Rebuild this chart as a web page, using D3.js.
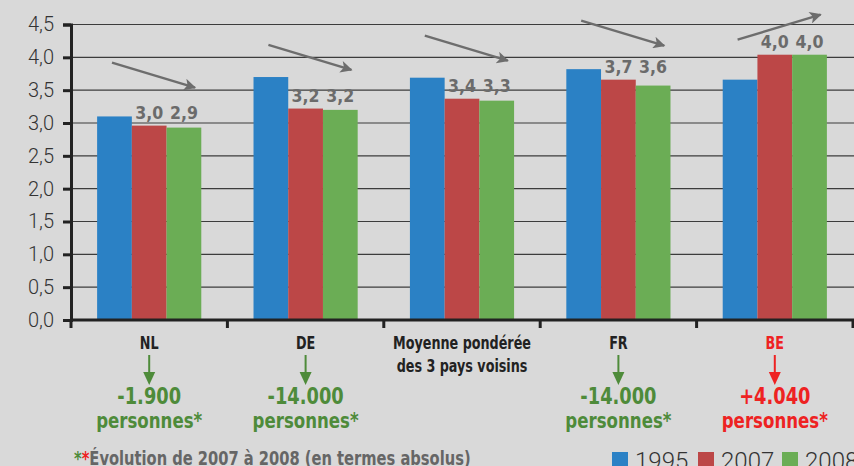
<!DOCTYPE html>
<html>
<head>
<meta charset="utf-8">
<script src="https://cdn.jsdelivr.net/npm/d3@7"></script>
<style>
body { margin: 0; background: #d9d9d9; }
.cond { font-family: "DejaVu Sans Condensed", sans-serif; font-weight: bold; }
</style>
</head>
<body>
<div id="chart"></div>
<script>
var width  = 854;
var height = 466;

// data
var categories = ["NL", "DE", "Moyenne", "FR", "BE"];
var catLines = [["NL"], ["DE"], ["Moyenne pondérée", "des 3 pays voisins"], ["FR"], ["BE"]];
var years = ["1995", "2007", "2008"];
var v1995 = [3.10, 3.70, 3.69, 3.82, 3.66];
var v2007 = [2.96, 3.22, 3.37, 3.66, 4.04];
var v2008 = [2.93, 3.20, 3.34, 3.57, 4.04];
var changes = ["-1.900", "-14.000", null, "-14.000", "+4.040"];
var yTicks = [0, 0.5, 1, 1.5, 2, 2.5, 3, 3.5, 4, 4.5];
var colors = ["#2b81c5", "#bc4747", "#6bad55"];
var series = [v1995, v2007, v2008];

var svg = d3.select("#chart").append("svg").attr("width", width).attr("height", height);

var x0 = d3.scaleBand().domain(categories).range([71, 853]);
var bw = x0.bandwidth();
var x1 = d3.scaleBand().domain(years).range([bw * 0.167, bw * 0.833]);
var y = d3.scaleLinear().domain([0, 4.5]).range([320, 24.5]);
var fmt = function(v) { return d3.format(".1f")(v).replace(".", ","); };

// texte étroit (police condensée resserrée)
function narrow(x, yy, size, sx, anchor) {
	return svg.append("text").attr("class", "cond")
		.attr("transform", "translate(" + x + "," + yy + ") scale(" + sx + ",1)")
		.attr("text-anchor", anchor || "middle").attr("font-size", size);
}

// grille
svg.append("g").selectAll("line").data(yTicks.slice(1)).enter().append("line")
	.attr("x1", 71).attr("x2", width)
	.attr("y1", function(d){ return y(d); }).attr("y2", function(d){ return y(d); })
	.attr("stroke", "#3c3c3c").attr("stroke-width", 1.2);

// barres
categories.forEach(function(c, i) {
	years.forEach(function(yr, j) {
		svg.append("rect")
			.attr("x", x0(c) + x1(yr))
			.attr("y", y(series[j][i]))
			.attr("width", x1.bandwidth())
			.attr("height", y(0) - y(series[j][i]))
			.attr("fill", colors[j]);
	});
});

// axe Y
var yAxis = d3.axisLeft(y).tickValues(yTicks).tickSize(8).tickPadding(9).tickFormat(fmt);
var gy = svg.append("g").attr("transform", "translate(71,0)").call(yAxis);
gy.select(".domain").attr("stroke", "#222").attr("stroke-width", 3);
gy.selectAll(".tick line").attr("stroke", "#222").attr("stroke-width", 3);
gy.selectAll(".tick text").attr("font-family", "Roboto, sans-serif").attr("font-weight", 300)
	.attr("font-size", 20).attr("fill", "#333");

// axe X
svg.append("line").attr("x1", 71).attr("x2", width).attr("y1", 320).attr("y2", 320)
	.attr("stroke", "#222").attr("stroke-width", 3);
var bounds = categories.map(function(c){ return x0(c); }).concat([x0.range()[1]]);
svg.append("g").selectAll("line").data(bounds).enter().append("line")
	.attr("x1", function(d){ return d; }).attr("x2", function(d){ return d; })
	.attr("y1", 320).attr("y2", 328).attr("stroke", "#222").attr("stroke-width", 3);

// étiquettes valeurs
categories.forEach(function(c, i) {
	var top = Math.min(y(v2007[i]), y(v2008[i])) - 7;
	[1, 2].forEach(function(j) {
		narrow(x0(c) + x1(years[j]) + x1.bandwidth() / 2, top, 18.5, 0.95)
			.attr("fill", "#6b6b6b").text(fmt(series[j][i]));
	});
});

// flèches de tendance
svg.append("defs").append("marker").attr("id", "head")
	.attr("viewBox", "0 0 10 10").attr("refX", 9).attr("refY", 5)
	.attr("markerWidth", 6).attr("markerHeight", 5).attr("markerUnits", "strokeWidth")
	.attr("orient", "auto")
	.append("path").attr("d", "M0,0 L10,5 L0,10 L2.5,5 Z").attr("fill", "#6d6d6d");

categories.forEach(function(c, i) {
	var ye = y(v2008[i]) - 40;
	var dir = v2008[i] > v1995[i] ? -1 : 1;
	svg.append("line")
		.attr("x1", x0(c) + 41).attr("y1", ye - dir * 25)
		.attr("x2", x0(c) + 124).attr("y2", ye)
		.attr("stroke", "#6d6d6d").attr("stroke-width", 2.4)
		.attr("marker-end", "url(#head)");
});

// libellés catégories
categories.forEach(function(c, i) {
	var cx = x0(c) + bw / 2;
	var isBE = c === "BE";
	catLines[i].forEach(function(l, k) {
		narrow(cx, 349 + k * 23, 17.5, 0.81).attr("fill", isBE ? "#ee2222" : "#222").text(l);
	});
	if (changes[i]) {
		var col = isBE ? "#ee2222" : "#4e8b3a";
		svg.append("line").attr("x1", cx).attr("x2", cx).attr("y1", 355).attr("y2", 374)
			.attr("stroke", col).attr("stroke-width", 2);
		svg.append("path").attr("d", "M" + (cx - 6) + ",372 L" + (cx + 6) + ",372 L" + cx + ",385 Z")
			.attr("fill", col);
		narrow(cx, 404, 22.5, 0.88).attr("fill", col).text(changes[i]);
		narrow(cx, 428, 22, 0.84).attr("fill", col).text("personnes*");
	}
});

// note
var note = narrow(74, 465, 19, 0.86, "start");
note.append("tspan").attr("fill", "#4e8b3a").text("*");
note.append("tspan").attr("fill", "#ee2222").text("*");
note.append("tspan").attr("fill", "#666").text("Évolution de 2007 à 2008 (en termes absolus)");

// légende
var legX = [612, 698, 782];
years.forEach(function(yr, j) {
	svg.append("rect").attr("x", legX[j]).attr("y", 452).attr("width", 16).attr("height", 16).attr("fill", colors[j]);
	svg.append("text").attr("x", legX[j] + 23).attr("y", 469)
		.attr("font-family", "Roboto, sans-serif").attr("font-weight", 300)
		.attr("font-size", 24).attr("fill", "#333").text(yr);
});
</script>
</body>
</html>
